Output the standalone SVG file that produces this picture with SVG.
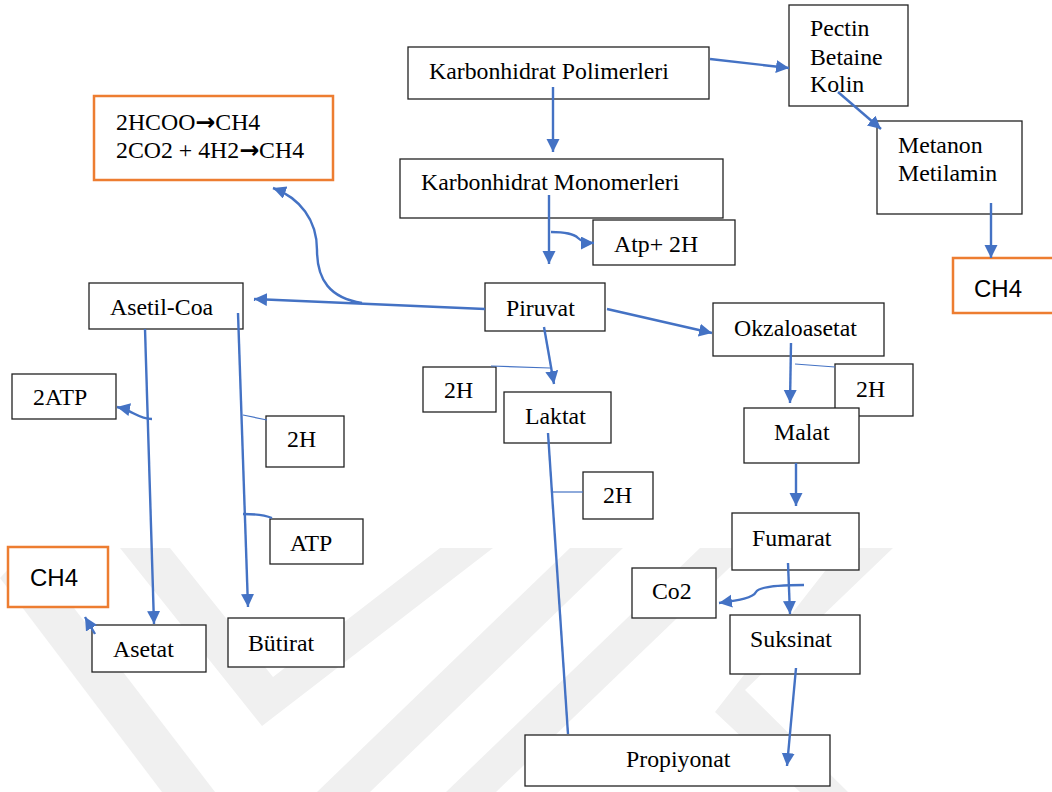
<svg xmlns="http://www.w3.org/2000/svg" width="1052" height="792" viewBox="0 0 1052 792">
<style>
.box{fill:#fff;stroke:#222;stroke-width:1.3}
.obox{fill:#fff;stroke:#ED7D31;stroke-width:2.5}
.t{font-family:"Liberation Serif","Times New Roman",serif;font-size:23.8px;fill:#000}
.s{font-family:"Liberation Sans",Arial,sans-serif;font-size:24px;fill:#000}
.ar{font-family:"DejaVu Sans",sans-serif;font-weight:bold}
.c{fill:none;stroke:#4472C4;stroke-width:2.4}
.thin{fill:none;stroke:#4472C4;stroke-width:1.2}
.wm{fill:#f0f0f0}
</style>
<defs>
<marker id="ah" markerUnits="userSpaceOnUse" markerWidth="15" markerHeight="15" refX="13" refY="6.5" orient="auto">
<path d="M0,0 L13,6.5 L0,13 z" fill="#4472C4"/>
</marker>
</defs>
<rect width="1052" height="792" fill="#fff"/>
<g id="watermark">
<polygon class="wm" points="0,578 28,548 215,792 162,792"/>
<polygon class="wm" points="120,548 170,548 273,677 440,548 493,548 262,726"/>
<polygon class="wm" points="570,548 623,548 370,792 317,792"/>
<polygon class="wm" points="700,548 750,548 496,792 446,792"/>
<polygon class="wm" points="843,548 893,548 745,690 848,792 800,792 715,712"/>
</g>
<g id="n-polimer"><rect class="box" x="408" y="47" width="301" height="52"/><text class="t" x="429" y="79">Karbonhidrat Polimerleri</text></g>
<g id="n-monomer"><rect class="box" x="400" y="159" width="323" height="59"/><text class="t" x="421" y="190">Karbonhidrat Monomerleri</text></g>
<g id="n-atp2h"><rect class="box" x="593" y="220" width="142" height="45"/><text class="t" x="614" y="252">Atp+ 2H</text></g>
<g id="n-pectin"><rect class="box" x="789" y="5" width="119" height="101"/><text class="t" x="810" y="36">Pectin</text><text class="t" x="810" y="65">Betaine</text><text class="t" x="810" y="92">Kolin</text></g>
<g id="n-metanon"><rect class="box" x="877" y="121" width="145" height="93"/><text class="t" x="898" y="153">Metanon</text><text class="t" x="898" y="181">Metilamin</text></g>
<g id="n-ch4-right"><rect class="obox" x="953" y="258" width="105" height="55"/><text class="s" x="974" y="297">CH4</text></g>
<g id="n-formate"><rect class="obox" x="94" y="96" width="239" height="84"/><text class="t" x="116" y="130">2HCOO<tspan class="ar">→</tspan>CH4</text><text class="t" x="116" y="158">2CO2 + 4H2<tspan class="ar">→</tspan>CH4</text></g>
<g id="n-asetilcoa"><rect class="box" x="89" y="283" width="154" height="46"/><text class="t" x="110" y="315">Asetil-Coa</text></g>
<g id="n-piruvat"><rect class="box" x="485" y="283" width="120" height="48"/><text class="t" x="506" y="316">Piruvat</text></g>
<g id="n-okzalo"><rect class="box" x="713" y="303" width="171" height="53"/><text class="t" x="734" y="336">Okzaloasetat</text></g>
<g id="n-2h-a"><rect class="box" x="423" y="367" width="73" height="45"/><text class="t" x="444" y="398">2H</text></g>
<g id="n-laktat"><rect class="box" x="504" y="392" width="107" height="51"/><text class="t" x="525" y="424">Laktat</text></g>
<g id="n-2h-b"><rect class="box" x="835" y="364" width="78" height="52"/><text class="t" x="856" y="397">2H</text></g>
<g id="n-malat"><rect class="box" x="744" y="408" width="115" height="55"/><text class="t" x="774" y="440">Malat</text></g>
<g id="n-2h-c"><rect class="box" x="583" y="472" width="70" height="47"/><text class="t" x="603" y="503">2H</text></g>
<g id="n-fumarat"><rect class="box" x="732" y="513" width="127" height="57"/><text class="t" x="752" y="546">Fumarat</text></g>
<g id="n-co2"><rect class="box" x="632" y="568" width="84" height="50"/><text class="t" x="652" y="599">Co2</text></g>
<g id="n-suksinat"><rect class="box" x="730" y="615" width="130" height="59"/><text class="t" x="750" y="647">Suksinat</text></g>
<g id="n-propiyonat"><rect class="box" x="525" y="735" width="305" height="51"/><text class="t" x="626" y="767">Propiyonat</text></g>
<g id="n-2atp"><rect class="box" x="12" y="374" width="104" height="45"/><text class="t" x="33" y="405">2ATP</text></g>
<g id="n-2h-d"><rect class="box" x="266" y="416" width="78" height="51"/><text class="t" x="287" y="447">2H</text></g>
<g id="n-atp"><rect class="box" x="270" y="519" width="93" height="45"/><text class="t" x="290" y="551">ATP</text></g>
<g id="n-ch4-left"><rect class="obox" x="8" y="547" width="100" height="60"/><text class="s" x="30" y="586">CH4</text></g>
<g id="n-asetat"><rect class="box" x="92" y="625" width="114" height="47"/><text class="t" x="113" y="657">Asetat</text></g>
<g id="n-butirat"><rect class="box" x="228" y="618" width="116" height="49"/><text class="t" x="248" y="651">Bütirat</text></g>
<g id="connectors">
<path class="c" d="M553,87 L553,152" marker-end="url(#ah)"/>
<path class="c" d="M549,195 L549,264" marker-end="url(#ah)"/>
<path class="c" d="M551,232 C566,232 574,234 578,238 C582,242 588,243 594,243" marker-end="url(#ah)"/>
<path class="c" d="M710,59 L789,68" marker-end="url(#ah)"/>
<path class="c" d="M838,92 L881,129" marker-end="url(#ah)"/>
<path class="c" d="M991,203 L991,258" marker-end="url(#ah)"/>
<path class="c" d="M485,309 L254,299" marker-end="url(#ah)"/>
<path class="c" d="M362,303 C330,298 317,280 317,250 C317,220 300,198 273,188" marker-end="url(#ah)"/>
<path class="c" d="M145,329 L154,624" marker-end="url(#ah)"/>
<path class="c" d="M238,313 L248,607" marker-end="url(#ah)"/>
<path class="c" d="M152,419 C138,419 132,410 117,407" marker-end="url(#ah)"/>
<path class="thin" d="M243,415 L267,420"/>
<path class="c" d="M243,514 Q262,514 272,518"/>
<path class="c" d="M95,634 L85,617" marker-end="url(#ah)"/>
<path class="c" d="M544,327 L554,384" marker-end="url(#ah)"/>
<path class="thin" d="M491,366 L550,368"/>
<path class="c" d="M607,309 L712,333" marker-end="url(#ah)"/>
<path class="c" d="M548,433 L568,734"/>
<path class="thin" d="M553,492 L583,492"/>
<path class="c" d="M791,343 L790,403" marker-end="url(#ah)"/>
<path class="thin" d="M795,364 L835,367"/>
<path class="c" d="M796,463 L796,506" marker-end="url(#ah)"/>
<path class="c" d="M788,563 L790,614" marker-end="url(#ah)"/>
<path class="c" d="M804,585 C778,585 759,587 756,592 C753,598 740,600 719,603" marker-end="url(#ah)"/>
<path class="c" d="M796,668 L787,766" marker-end="url(#ah)"/>
</g>
</svg>
